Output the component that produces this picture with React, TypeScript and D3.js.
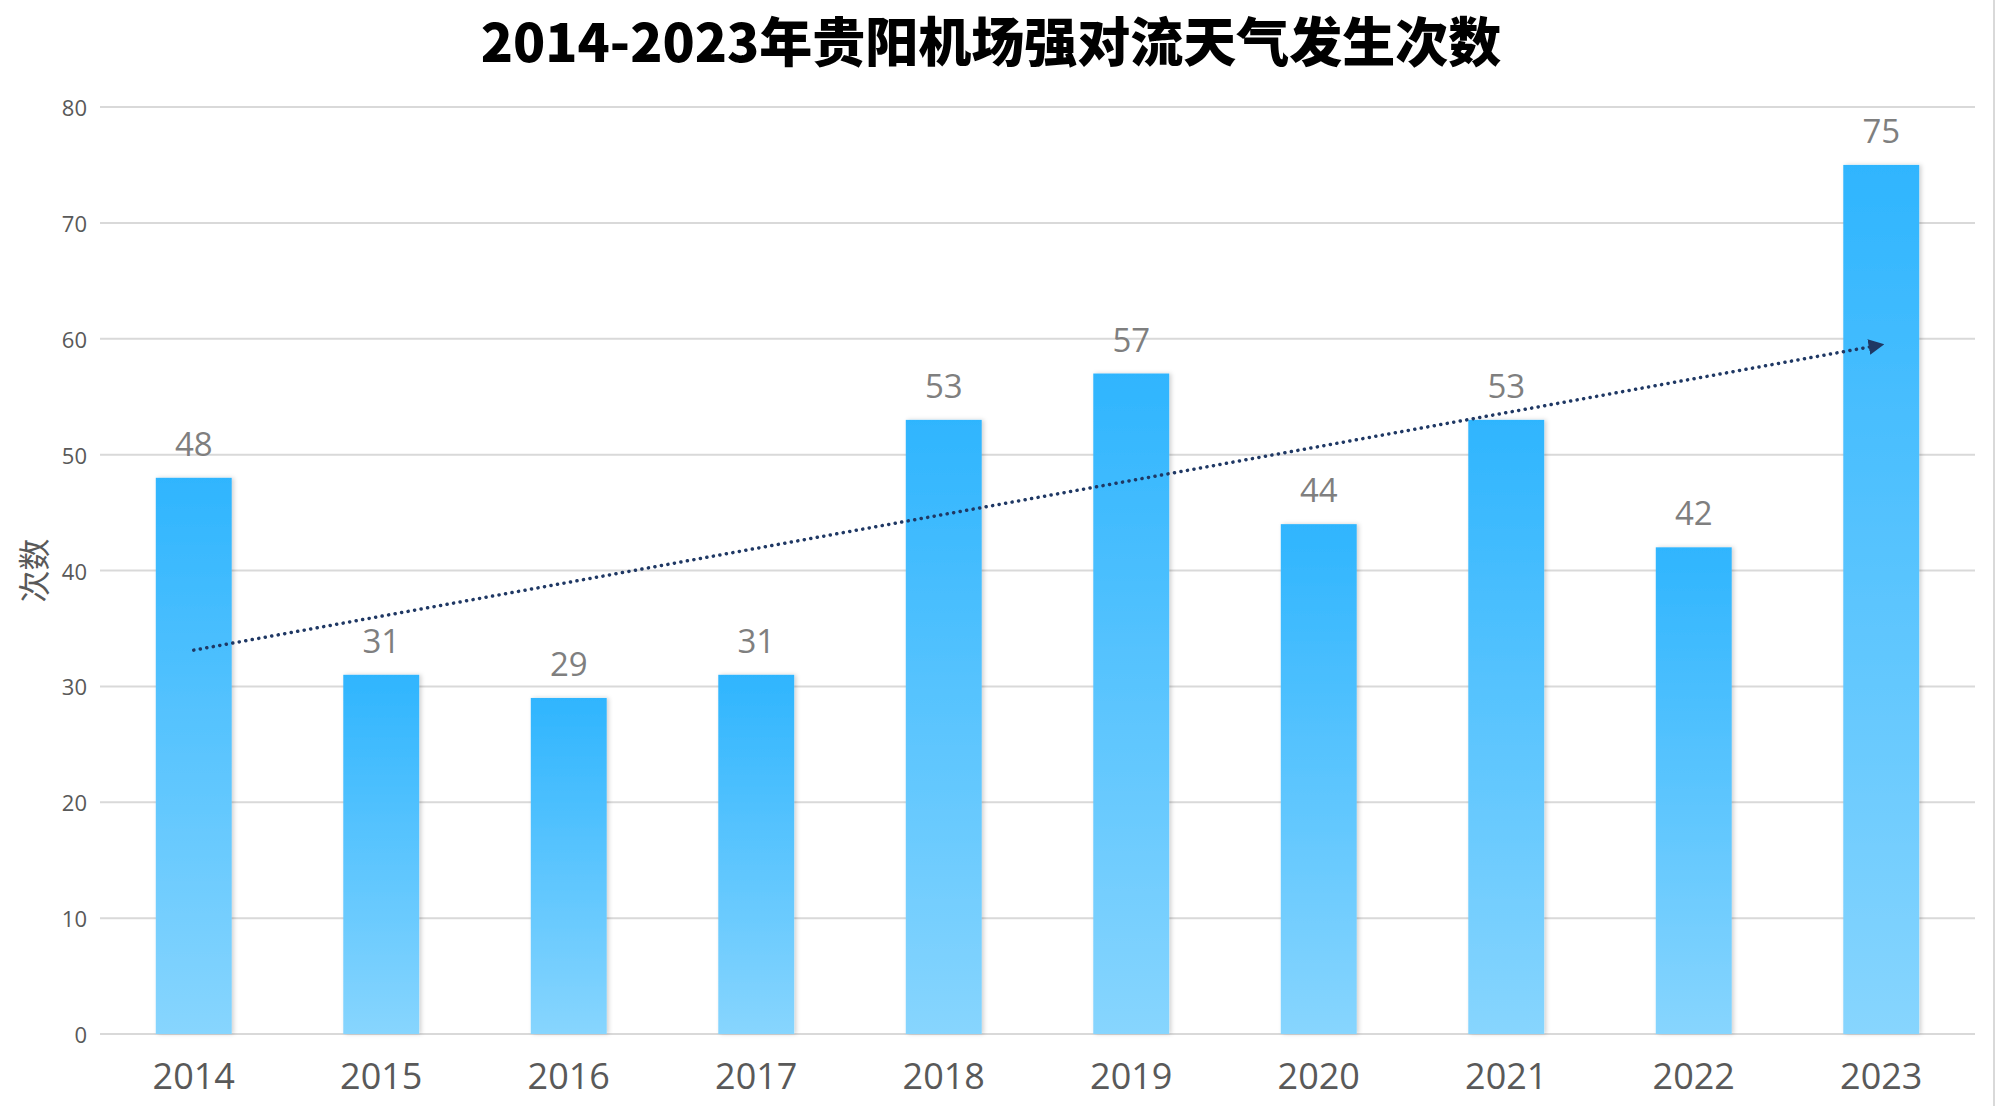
import React from "react";
import * as d3 from "d3";

const years = ["2014", "2015", "2016", "2017", "2018", "2019", "2020", "2021", "2022", "2023"];
const counts = [48, 31, 29, 31, 53, 57, 44, 53, 42, 75];
const yTicks = [0, 10, 20, 30, 40, 50, 60, 70, 80];
const title = "2014-2023年贵阳机场强对流天气发生次数";
const yTitle = "次数";

const W = 2000;
const H = 1106;
const left = 100;
const right = 1975;
const top = 107;
const bottom = 1034;

export default function App() {
  const x = d3.scaleBand<string>().domain(years).range([left, right]).paddingInner(0.595).paddingOuter(0.2975);
  const y = d3.scaleLinear().domain([0, 80]).range([bottom, top]);

  // linear trendline (least squares) through the data
  const idx = counts.map((_, i) => i);
  const mx = d3.mean(idx) as number;
  const my = d3.mean(counts) as number;
  const sxy = d3.sum(idx, (i) => (i - mx) * (counts[i] - my));
  const sxx = d3.sum(idx, (i) => (i - mx) * (i - mx));
  const slope = sxy / sxx;
  const icpt = my - slope * mx;
  const cx = (yr: string) => (x(yr) as number) + x.bandwidth() / 2;
  const trend = d3
    .line<number>()
    .x((i) => cx(years[i]))
    .y((i) => y(icpt + slope * i));
  const trendPts = [0, years.length - 1];

  const font = "'Open Sans', 'Noto Sans CJK SC', sans-serif";

  return (
    <svg width={W} height={H} style={{ position: "absolute", left: 0, top: 0, background: "#fff" }}>
      <defs>
        <linearGradient id="barGrad" x1="0" y1="0" x2="0" y2="1">
          <stop offset="0" stopColor="#2FB5FE" />
          <stop offset="0.35" stopColor="#4EC0FE" />
          <stop offset="1" stopColor="#87D5FE" />
        </linearGradient>
        <filter id="shadow" x="-20%" y="-5%" width="140%" height="110%">
          <feDropShadow dx="2" dy="0" stdDeviation="2" floodColor="#000" floodOpacity="0.18" />
        </filter>
        <marker id="arrow" viewBox="0 0 10 10" refX="8" refY="5" markerWidth="4.5" markerHeight="4.5" orient="auto" markerUnits="strokeWidth">
          <path d="M0,0 L10,5 L0,10 z" fill="#1F3864" />
        </marker>
      </defs>
      <rect x={0} y={0} width={W} height={H} fill="#fff" />
      <line x1={1994} x2={1994} y1={0} y2={H} stroke="#D9D9D9" strokeWidth={2} />

      <text x={991} y={62} textAnchor="middle" fontFamily="'Noto Sans CJK SC', sans-serif" fontWeight={800} fontSize={53} fill="#000">
        {title}
      </text>

      {yTicks.map((t) => (
        <g key={t}>
          <line x1={left} x2={right} y1={y(t)} y2={y(t)} stroke="#D9D9D9" strokeWidth={2} />
          <text x={87} y={y(t)} textAnchor="end" dominantBaseline="central" fontFamily={font} fontSize={22} fill="#595959">
            {t}
          </text>
        </g>
      ))}

      <text
        transform={`translate(32,${(top + bottom) / 2}) rotate(-90)`}
        textAnchor="middle"
        dominantBaseline="central"
        fontFamily="'Noto Sans CJK SC', sans-serif"
        fontSize={32}
        fill="#595959"
      >
        {yTitle}
      </text>

      {years.map((yr, i) => (
        <g key={yr}>
          <rect
            x={x(yr)}
            y={y(counts[i])}
            width={x.bandwidth()}
            height={y(0) - y(counts[i])}
            fill="url(#barGrad)"
            filter="url(#shadow)"
          />
          <text x={cx(yr)} y={y(counts[i]) - 22} textAnchor="middle" fontFamily={font} fontSize={33} fill="#7F7F7F">
            {counts[i]}
          </text>
          <text x={cx(yr)} y={1089} textAnchor="middle" fontFamily={font} fontSize={36} fill="#595959">
            {yr}
          </text>
        </g>
      ))}

      <path
        d={trend(trendPts) as string}
        fill="none"
        stroke="#1F3864"
        strokeWidth={3.5}
        strokeDasharray="0.1 6.5"
        strokeLinecap="round"
        markerEnd="url(#arrow)"
      />
    </svg>
  );
}
